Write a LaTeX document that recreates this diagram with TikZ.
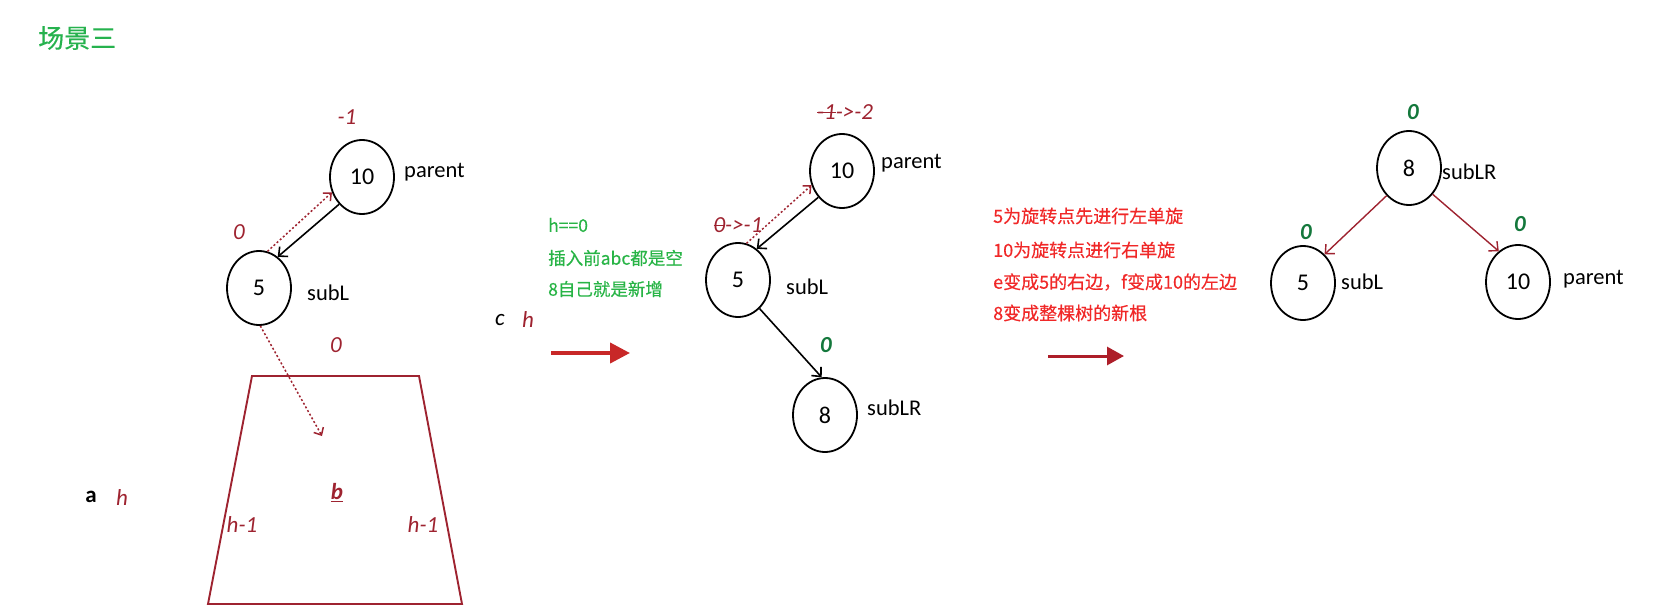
\documentclass[tikz,border=0pt]{standalone}
\usepackage{fontspec}
\setmainfont{Carlito}
\newfontfamily\cjk[FakeBold=0.4]{Noto Sans CJK SC}
\usetikzlibrary{shapes.geometric,arrows.meta}
\newsavebox\mystkbox
\newcommand\mystk[1]{\sbox\mystkbox{#1}\rlap{\raisebox{0.28em}{\rule{\wd\mystkbox}{1.3pt}}}\usebox\mystkbox}
\definecolor{titlegreen}{RGB}{38,178,78}
\definecolor{notegreen}{RGB}{40,180,70}
\definecolor{notered}{RGB}{240,40,40}
\definecolor{dkred}{RGB}{158,35,48}
\definecolor{arrred}{RGB}{200,40,40}
\definecolor{lgreen}{RGB}{20,120,60}
\tikzset{
  tn/.style={ellipse, draw=black, line width=1.8pt, minimum width=64pt, minimum height=74pt, inner sep=0pt, font=\fontsize{24}{26}\selectfont},
  lbl/.style={anchor=west, inner sep=0pt, font=\fontsize{22.5}{24}\selectfont},
  rl/.style={text=dkred, inner sep=0pt, font=\fontsize{23}{24}\selectfont\itshape},
  gl/.style={text=lgreen, inner sep=0pt, font=\fontsize{23}{24}\selectfont\bfseries\itshape},
  bl/.style={text=black, inner sep=0pt, font=\fontsize{23}{24}\selectfont\itshape},
  gnote/.style={anchor=west, inner sep=0pt, text=notegreen, font=\cjk\fontsize{17.5}{20}\selectfont},
  rnote/.style={anchor=west, inner sep=0pt, text=notered, font=\cjk\fontsize{18}{20}\selectfont},
  blkarr/.style={draw=black, line width=1.6pt, -{Straight Barb[length=7pt,width=13pt]}},
  dotarr/.style={draw=dkred, line width=1.5pt, dash pattern=on 2pt off 2.2pt, -{Straight Barb[length=6pt,width=11pt]}},
  redarr/.style={draw=dkred, line width=1.4pt, -{Straight Barb[length=7pt,width=13pt]}},
  bigarr/.style={draw=arrred, line width=4pt, -{Triangle[length=20pt,width=20pt]}},
  midarr/.style={draw=dkred!85!red, line width=3pt, -{Triangle[length=17pt,width=18pt]}}
}
\begin{document}
\begin{tikzpicture}[x=1pt,y=-1pt]
\useasboundingbox (0,0) rectangle (1669,613);
% title
\node[anchor=west, inner sep=0pt, text=titlegreen, font=\cjk\fontsize{26}{28}\selectfont] (title) at (38,38) {场景三};

% ---------- tree 1 ----------
\node[tn] (p1) at (362,177) {10};
\node[tn] (s1) at (259,288) {5};
\node[lbl] (p1l) at (404,172) {parent};
\node[lbl] (s1l) at (307,293) {subL};
\node[rl] (p1b) at (347,117) {-1};
\node[rl] (s1b) at (239,232) {0};
\draw[blkarr] (p1.230) -- (s1.59);
\draw[dotarr] (s1.77) -- (p1.207);
\coordinate (bend) at (322,436);
\draw[dotarr] (s1.272) -- (bend);
% trapezoid subtree b
\draw[draw=dkred, line width=1.9pt] (252,376) -- (419,376) -- (462,604) -- (208,604) -- cycle;
\node[rl] (t0) at (336,345) {0};
\node[text=dkred, inner sep=0pt, font=\fontsize{23}{24}\selectfont\bfseries\itshape] (tb) at (337,493) {\underline{b}};
\node[rl] (th1) at (242,525) {h-1};
\node[rl] (th2) at (423,525) {h-1};
\node[text=black, inner sep=0pt, font=\fontsize{23}{24}\selectfont\bfseries] (ta) at (91,497) {a};
\node[rl] (tah) at (122,498) {h};
\node[bl] (tc) at (500,320) {c};
\node[rl] (tch) at (528,320) {h};

% green note
\node[gnote] (g1) at (548,225) {h==0};
\node[gnote] (g2) at (548,258) {插入前abc都是空};
\node[gnote] (g3) at (548,289) {8自己就是新增};

% first big arrow
\coordinate (a1s) at (551,353);
\coordinate (a1e) at (630,353);
\draw[bigarr] (a1s) -- (a1e);

% ---------- tree 2 ----------
\node[tn] (p2) at (842,171) {10};
\node[tn] (s2) at (738,280) {5};
\node[tn] (n8) at (825,415) {8};
\node[lbl] (p2l) at (881,163) {parent};
\node[lbl] (s2l) at (786,287) {subL};
\node[lbl] (n8l) at (867,408) {subLR};
\node[rl] (p2b) at (845,112) {\mystk{-1}->-2};
\node[rl] (s2b) at (738,225) {\mystk{0}->-1};
\node[gl] (n8b) at (826,345) {0};
\draw[blkarr] (p2.228) -- (s2.59);
\draw[dotarr] (s2.77) -- (p2.205);
\draw[blkarr] (s2.307) -- (n8.95);

% red note
\node[rnote] (r1) at (993,216) {5为旋转点先进行左单旋};
\node[rnote] (r2) at (993,250) {10为旋转点进行右单旋};
\node[rnote] (r3) at (993,282) {e变成5的右边，f变成10的左边};
\node[rnote] (r4) at (993,313) {8变成整棵树的新根};

% second arrow
\coordinate (a2s) at (1048,356);
\coordinate (a2e) at (1124,356);
\draw[midarr] (a2s) -- (a2e);

% ---------- tree 3 ----------
\node[tn] (r8) at (1409,168) {8};
\node[tn] (l5) at (1303,283) {5};
\node[tn] (r10) at (1518,282) {10};
\node[lbl] (r8l) at (1442,172) {subLR};
\node[lbl] (l5l) at (1341,282) {subL};
\node[lbl] (r10l) at (1563,279) {parent};
\node[gl] (r8b) at (1413,112) {0};
\node[gl] (l5b) at (1306,232) {0};
\node[gl] (r10b) at (1520,224) {0};
\draw[redarr] (r8.231) -- (l5.53);
\draw[redarr] (r8.312) -- (r10.122);
\end{tikzpicture}
\end{document}
